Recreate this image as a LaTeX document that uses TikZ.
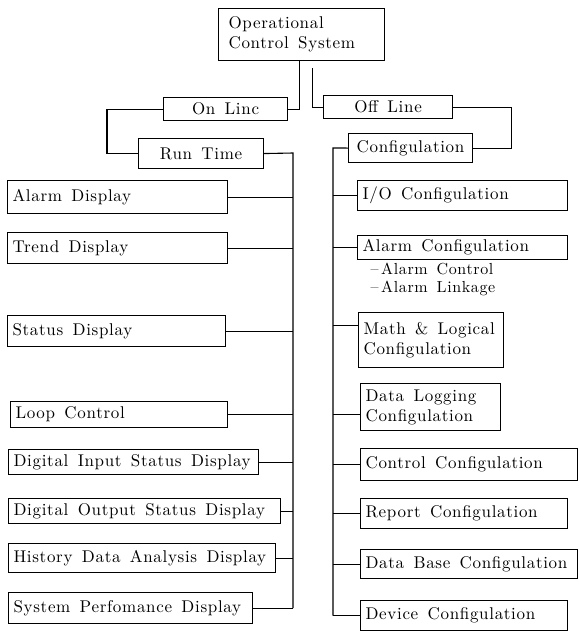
\documentclass[tikz,border=0pt]{standalone}
\usepackage{fontspec}
\setmainfont{lmroman10-regular.otf}[LetterSpace=4]
\usepackage{tikz}
\tikzset{box/.style={draw, line width=1.1pt, anchor=north west, inner xsep=5pt, inner ysep=0pt,
    align=left, font=\fontsize{17}{20}\selectfont, execute at begin node={\spaceskip 0.55em\relax}}}
\tikzset{cbox/.style={box, align=center}}
\tikzset{link/.style={line width=1.1pt}}

\begin{document}
\begin{tikzpicture}[x=1pt, y=-1pt]
                \useasboundingbox (0,0) rectangle (579,633);

                \node[box, text width=146pt, minimum height=52pt, inner xsep=10pt] (ocs) at (218,8) {Operational\\Control System};
                \node[cbox, text width=114pt, minimum height=23pt] (online) at (163,97) {On Linc};
                \node[cbox, text width=119pt, minimum height=23pt] (offline) at (323,95) {Off Line};
                \node[cbox, text width=115pt, minimum height=30pt] (runtime) at (138,138) {Run Time};
                \node[cbox, text width=114pt, minimum height=29pt] (config) at (348,133) {Configulation};

                \node[box, text width=210pt, minimum height=33pt] (alarmdisp) at (7,180) {Alarm Display};
                \node[box, text width=210pt, minimum height=31pt] (trenddisp) at (7,232) {Trend Display};
                \node[box, text width=208pt, minimum height=31pt] (statusdisp) at (7,315) {Status Display};
                \node[box, text width=207pt, minimum height=26pt] (loopctrl) at (10,401) {Loop Control};
                \node[box, text width=240pt, minimum height=25pt] (diginput) at (8,449) {Digital Input Status Display};
                \node[box, text width=262pt, minimum height=25pt] (digoutput) at (8,498) {Digital Output Status Display};
                \node[box, text width=257pt, minimum height=29pt] (history) at (8,543) {History Data Analysis Display};
                \node[box, text width=234pt, minimum height=31pt] (sysperf) at (8,592) {System Perfomance Display};

                \node[box, text width=200pt, minimum height=30pt] (ioconf) at (357,180) {I/O Configulation};
                \node[box, text width=200pt, minimum height=24pt] (alarmconf) at (357,235) {Alarm Configulation};
                \node[box, draw=none, inner xsep=0pt, font=\fontsize{16}{18}\selectfont] (alarmsub) at (370,262) {–\,Alarm Control\\–\,Alarm Linkage};
                \node[box, text width=135pt, minimum height=55pt] (mathconf) at (358,312) {Math \& Logical\\Configulation};
                \node[box, text width=130pt, minimum height=47pt] (dlogconf) at (360,383) {Data Logging\\Configulation};
                \node[box, text width=207pt, minimum height=32pt] (ctrlconf) at (360,448) {Control Configulation};
                \node[box, text width=197pt, minimum height=30pt] (reportconf) at (360,498) {Report Configulation};
                \node[box, text width=207pt, minimum height=29pt] (dbconf) at (360,549) {Data Base Configulation};
                \node[box, text width=197pt, minimum height=30pt] (deviceconf) at (360,600) {Device Configulation};

                \coordinate (ltrunk) at (293,153);
                \coordinate (rtrunk) at (333,148);

                \draw[link] ([xshift=-2pt]ocs.south) |- (online.east);
                \draw[link] ([xshift=11pt, yshift=-7pt]ocs.south) |- (offline.west);
                \draw[link] (online.west) -- ++(-56,0) |- (runtime.west);
                \draw[link] (offline.east) -- ++(58,0) |- (config.east);

                \draw[link] (runtime.east) -- (ltrunk) -- (ltrunk |- sysperf.east);
                \draw[link] (config.west) -- (rtrunk) -- (rtrunk |- deviceconf.west);

                \foreach \n in {alarmdisp, trenddisp, statusdisp, loopctrl, diginput, digoutput, history, sysperf}
                    \draw[link] (\n.east) -- (\n.east -| ltrunk);
                \foreach \n in {ioconf, alarmconf, ctrlconf, reportconf, dbconf, deviceconf}
                    \draw[link] (\n.west) -- (\n.west -| rtrunk);
                \draw[link] ([yshift=15pt]mathconf.west) -- ([yshift=15pt]mathconf.west -| rtrunk);
                \draw[link] ([yshift=-7pt]dlogconf.west) -- ([yshift=-7pt]dlogconf.west -| rtrunk);

            \end{tikzpicture}
\end{document}
